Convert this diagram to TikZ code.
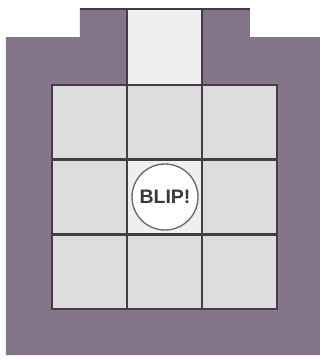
\documentclass[tikz,border=0pt]{standalone}
\usepackage{fontspec}
\setmainfont{Liberation Sans}
\definecolor{frame}{HTML}{84758A}
\definecolor{cell}{HTML}{DDDCDD}
\definecolor{litcell}{HTML}{EFEFEF}
\definecolor{gridline}{HTML}{463C48}
\definecolor{txt}{HTML}{3A3A3E}
\tikzset{
  cellbox/.style={fill=cell,draw=gridline,line width=1.8pt},
  litbox/.style={fill=litcell,draw=gridline,line width=1.8pt},
}
\begin{document}
\begin{tikzpicture}[x=1pt,y=-1pt]
\useasboundingbox (0,0) rectangle (323,360);
\fill[white] (0,0) rectangle (323,360);
% outer frame
\fill[frame] (80,9) -- (250,9) -- (250,37) -- (320,37) -- (320,355) -- (6,355) -- (6,37) -- (80,37) -- cycle;
\draw[gridline,line width=1.2pt] (80,9) -- (250,9);
% top light cell
\filldraw[litbox,draw=none] (127,10) rectangle (202,85);
\draw[gridline,line width=1.2pt] (127,9) -- (127,85) (202,9) -- (202,85);
% grid
\foreach \i/\x in {0/52,1/127,2/202}{
  \foreach \j/\y in {0/85,1/160,2/235}{
    \filldraw[cellbox] (\x,\y) rectangle ++(75,74);
  }
}
\filldraw[litbox] (127,160) rectangle ++(75,74);
\draw[gridline,line width=2pt] (52,85) rectangle (277,309);
% BLIP circle
\node[circle,draw=black!60,line width=1.3pt,fill=white,minimum size=66pt,inner sep=0pt,
      text=txt,font=\bfseries\fontsize{19.5}{19.5}\selectfont] (blip) at (165,197) {BLIP!};
\end{tikzpicture}
\end{document}
